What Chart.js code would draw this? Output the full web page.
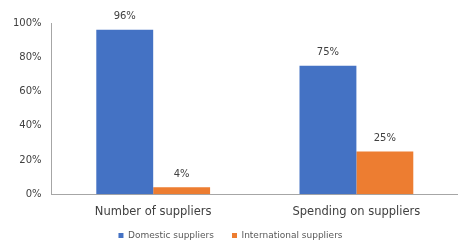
<!DOCTYPE html>
<html>
<head>
<meta charset="utf-8">
<script src="https://cdn.jsdelivr.net/npm/chart.js@4"></script>
<style>
html,body{margin:0;padding:0;background:#fff;}
#wrap{width:458px;height:240px;}
</style>
</head>
<body>
<div id="wrap"><canvas id="c" width="458" height="240"></canvas></div>
<script>
const categories = ["Number of suppliers", "Spending on suppliers"];
const domesticSuppliers = [96, 75];
const internationalSuppliers = [4, 25];
const seriesNames = ["Domestic suppliers", "International suppliers"];
const yTicks = [0, 20, 40, 60, 80, 100];

const FONT = "'DejaVu Sans', sans-serif";

const valueLabels = {
  id: 'valueLabels',
  afterDatasetsDraw(chart) {
    const ctx = chart.ctx;
    ctx.save();
    ctx.font = "10px " + FONT;
    ctx.fillStyle = "#404040";
    ctx.textAlign = "center";
    ctx.textBaseline = "middle";
    chart.data.datasets.forEach((ds, i) => {
      chart.getDatasetMeta(i).data.forEach((bar, j) => {
        ctx.fillText(ds.data[j] + "%", bar.x, bar.y - 13);
      });
    });
    ctx.restore();
  }
};

const legendTweak = {
  id: 'legendTweak',
  beforeInit(chart) {
    const lg = chart.legend;
    if (lg) {
      const orig = lg.fit.bind(lg);
      lg.fit = function () { orig(); this.height = 10; };
    }
  },
  afterLayout(chart) {
    const lg = chart.legend;
    if (lg) { lg.top = chart.height - 27; lg.bottom = chart.height; }
  }
};

new Chart(document.getElementById('c'), {
  type: 'bar',
  data: {
    labels: categories,
    datasets: [
      { label: seriesNames[0], data: domesticSuppliers, backgroundColor: '#4472C4' },
      { label: seriesNames[1], data: internationalSuppliers, backgroundColor: '#ED7D31' }
    ]
  },
  options: {
    responsive: false,
    animation: false,
    devicePixelRatio: 1,
    layout: { padding: { top: 23, left: 3, right: 0, bottom: 0 } },
    datasets: { bar: { barPercentage: 1, categoryPercentage: 0.56 } },
    plugins: {
      legend: {
        position: 'bottom',
        labels: {
          boxWidth: 5, boxHeight: 5, padding: 18,
          font: { family: FONT, size: 9 }, color: '#595959'
        }
      },
      tooltip: { enabled: false }
    },
    scales: {
      x: {
        grid: { display: false, drawTicks: false },
        border: { color: '#a6a6a6' },
        ticks: { font: { family: FONT, size: 11.5 }, color: '#404040', padding: 11 }
      },
      y: {
        min: 0, max: 100,
        afterBuildTicks(axis) { axis.ticks = yTicks.map(v => ({ value: v })); },
        grid: { display: false, drawTicks: false },
        border: { color: '#a6a6a6' },
        ticks: {
          font: { family: FONT, size: 10 }, color: '#404040', padding: 10,
          callback: v => v + '%'
        }
      }
    }
  },
  plugins: [valueLabels, legendTweak]
});
</script>
</body>
</html>
